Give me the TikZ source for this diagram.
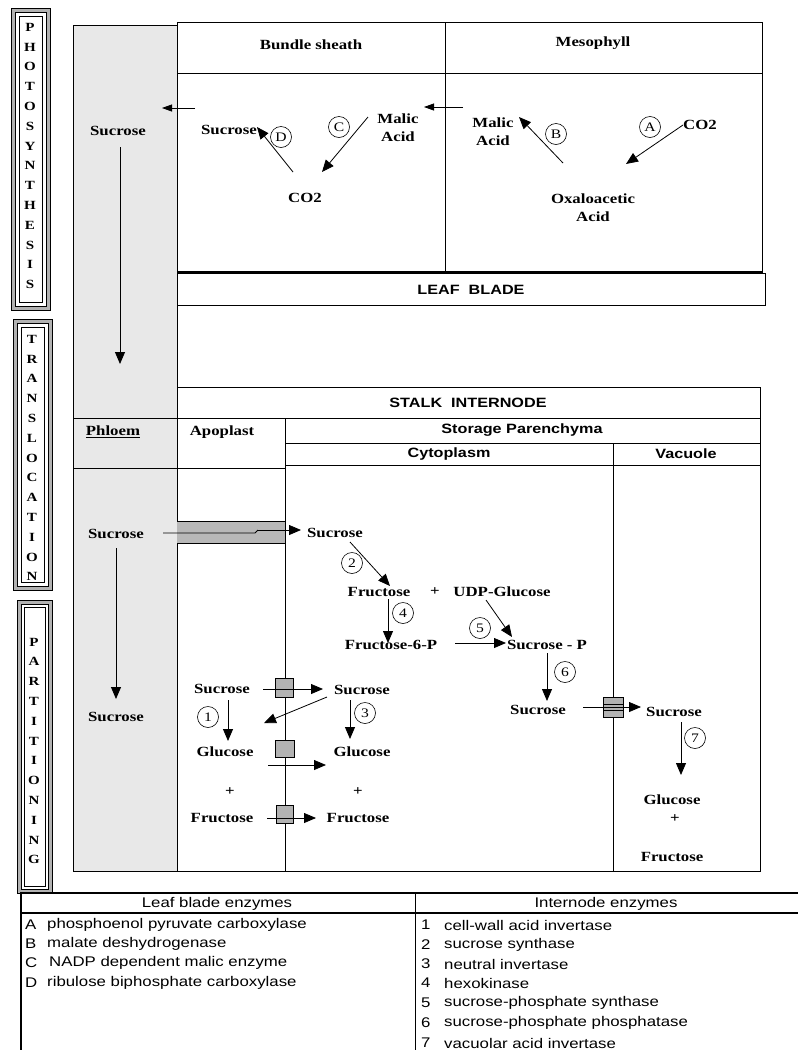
\documentclass[tikz,border=0pt]{standalone}
\usepackage{fontspec}
\setmainfont{Liberation Serif}[FakeStretch=1.2]
\newfontfamily\sansf{Liberation Sans}[FakeStretch=1.2]
\usetikzlibrary{arrows.meta}
\definecolor{phl}{gray}{0.91}
\definecolor{sqg}{gray}{0.70}
\definecolor{bandg}{gray}{0.72}
\definecolor{frameg}{gray}{0.70}
\begin{document}
\begin{tikzpicture}[x=1pt,y=-1pt,
  txt/.style={font=\fontsize{14}{18}\selectfont\bfseries, inner sep=1pt, align=center},
  hdr/.style={font=\sansf\fontsize{13.5}{16}\selectfont\bfseries, inner sep=1pt},
  tabh/.style={font=\sansf\fontsize{14}{16}\selectfont, inner sep=0pt},
  tab/.style={font=\sansf\fontsize{14}{16}\selectfont, inner sep=0pt, anchor=west},
  lbl/.style={draw, circle, line width=0.6pt, minimum size=21pt, inner sep=0pt, font=\fontsize{13}{13}\selectfont},
  arr/.style={-{Triangle[length=12pt,width=10pt]}, line width=0.8pt},
  box/.style={draw, line width=0.8pt},
  sqbox/.style={draw, fill=sqg, line width=0.6pt, inner sep=0pt, minimum width=18pt, minimum height=19pt},
  vert/.style={font=\fontsize{12.5}{19.8}\selectfont\bfseries, align=center, inner sep=0pt}
]
\useasboundingbox (0,0) rectangle (798,1050);
\fill[white] (0,0) rectangle (798,1050);

% ---------- side label frames ----------
\draw[line width=1pt, fill=frameg] (11,8) rectangle (50,310);
\draw[line width=0.8pt, fill=white] (15,12) rectangle (46,306);
\draw[line width=0.6pt] (19,16) rectangle (42,302);
\node[vert] (photo) at (30,156) {P\\H\\O\\T\\O\\S\\Y\\N\\T\\H\\E\\S\\I\\S};

\draw[line width=1pt, fill=frameg] (13,319) rectangle (52,590);
\draw[line width=0.8pt, fill=white] (17,323) rectangle (48,586);
\draw[line width=0.6pt] (21,327) rectangle (44,582);
\node[vert] (transl) at (32,458) {T\\R\\A\\N\\S\\L\\O\\C\\A\\T\\I\\O\\N};

\draw[line width=1pt, fill=frameg] (17,600) rectangle (52,893);
\draw[line width=0.8pt, fill=white] (21,604) rectangle (48,889);
\draw[line width=0.6pt] (24,607) rectangle (45,886);
\node[vert] (partit) at (34,751) {P\\A\\R\\T\\I\\T\\I\\O\\N\\I\\N\\G};

% ---------- phloem column ----------
\fill[phl] (73,25) rectangle (177,418);
\draw[box] (73,25) rectangle (177,418);
\fill[phl] (73,418) rectangle (177,468);
\draw[box] (73,418) rectangle (177,468);
\fill[phl] (73,468) rectangle (177,871);
\draw[box] (73,468) rectangle (177,871);

% ---------- leaf blade boxes ----------
\draw[box] (177,22) rectangle (445,73);
\draw[box] (445,22) rectangle (762,73);
\draw[box] (177,73) rectangle (445,272);
\draw[box] (445,73) rectangle (762,272);
\draw[line width=2.2pt] (177,272) -- (763,272);
\draw[box] (177,273) rectangle (765,305);

% ---------- stalk internode boxes ----------
\draw[box] (177,387) rectangle (760,418);
\draw[box] (285,418) rectangle (760,443);
\draw[box] (285,443) rectangle (613,465);
\draw[box] (613,443) rectangle (760,465);
\draw[box] (177,418) rectangle (285,468);
\draw[box] (177,468) rectangle (285,871);
\draw[box] (285,465) rectangle (613,871);
\draw[box] (613,465) rectangle (760,871);

% ---------- headers ----------
\node[txt] (bs) at (311,45) {Bundle sheath};
\node[txt] (meso) at (593,43) {Mesophyll};
\node[hdr] (leaf) at (471,290) {LEAF\ \ BLADE};
\node[hdr] (stalk) at (468,403) {STALK\ \ INTERNODE};
\node[hdr] (stor) at (522,430) {Storage Parenchyma};
\node[hdr] (cyto) at (449,454) {Cytoplasm};
\node[hdr] (vac) at (686,454) {Vacuole};
\node[txt] (phloem) at (113,432) {\underline{Phloem}};
\node[txt] (apo) at (222,432) {Apoplast};

% ---------- leaf blade pathway ----------
\node[txt] (sucP) at (118,131) {Sucrose};
\coordinate (p1) at (120,147); \coordinate (p2) at (120,364);
\draw[arr] (p1) -- (p2);
\coordinate (t1) at (195,108); \coordinate (t2) at (162,108);
\draw[arr, -{Triangle[length=10pt,width=7pt]}] (t1) -- (t2);
\coordinate (t3) at (463,107); \coordinate (t4) at (424,107);
\draw[arr, -{Triangle[length=10pt,width=7pt]}] (t3) -- (t4);

\node[txt] (sucB) at (229,130) {Sucrose};
\node[txt] (malB) at (398,128) {Malic\\Acid};
\node[txt] (co2B) at (305,198) {CO2};
\node[lbl] (D) at (281,137) {D};
\node[lbl] (C) at (339,127) {C};
\coordinate (d1) at (293,172); \coordinate (d2) at (257,127);
\draw[arr] (d1) -- (d2);
\coordinate (c1) at (368,117); \coordinate (c2) at (322,172);
\draw[arr] (c1) -- (c2);

\node[txt] (malM) at (493,132) {Malic\\Acid};
\node[lbl] (B) at (556,134) {B};
\coordinate (b1) at (563,163); \coordinate (b2) at (519,117);
\draw[arr] (b1) -- (b2);
\node[lbl] (A) at (650,127) {A};
\node[txt] (co2M) at (700,125) {CO2};
\coordinate (a1) at (683,125); \coordinate (a2) at (626,164);
\draw[arr] (a1) -- (a2);
\node[txt] (oxa) at (593,208) {Oxaloacetic\\Acid};

% ---------- phloem to cytoplasm ----------
\node[txt] (sucPh) at (116,534) {Sucrose};
\coordinate (q1) at (116,548); \coordinate (q2) at (116,699);
\draw[arr] (q1) -- (q2);
\node[txt] (sucPh2) at (116,717) {Sucrose};

\fill[bandg] (177,521) rectangle (285,543);
\draw[line width=0.8pt] (177,521) -- (285,521);
\draw[line width=0.8pt] (177,543) -- (285,543);
\coordinate (g1) at (163,533); \coordinate (g2) at (255,533);
\coordinate (g3) at (258,530); \coordinate (g4) at (301,530);
\draw[line width=0.8pt] (g1) -- (g2) -- (g3);
\draw[arr] (g3) -- (g4);

% ---------- cytoplasm pathway ----------
\node[txt] (sucC1) at (335,533) {Sucrose};
\node[lbl] (n2) at (352,563) {2};
\coordinate (e1) at (350,542); \coordinate (e2) at (390,586);
\draw[arr] (e1) -- (e2);
\node[txt] (fru) at (379,592) {Fructose};
\node[txt] (plus1) at (435,592) {+};
\node[txt] (udp) at (502,592) {UDP-Glucose};
\node[lbl] (n4) at (403,613) {4};
\coordinate (f1) at (388,599); \coordinate (f2) at (388,643);
\draw[arr] (f1) -- (f2);
\node[txt] (f6p) at (391,645) {Fructose-6-P};
\node[lbl] (n5) at (480,628) {5};
\coordinate (h1) at (455,643); \coordinate (h2) at (506,643);
\draw[arr] (h1) -- (h2);
\coordinate (u1) at (486,600); \coordinate (u2) at (512,637);
\draw[arr] (u1) -- (u2);
\node[txt] (sucp) at (547,645) {Sucrose - P};
\node[lbl] (n6) at (565,672) {6};
\coordinate (k1) at (547,653); \coordinate (k2) at (547,701);
\draw[arr] (k1) -- (k2);
\node[txt] (sucC2) at (538,710) {Sucrose};
\node[sqbox, minimum width=20pt, minimum height=20pt] (sq4) at (613,707) {};
\draw[line width=0.5pt] (603,704) -- (623,704) (603,710) -- (623,710);
\coordinate (m1) at (583,707); \coordinate (m2) at (641,707);
\draw[arr] (m1) -- (m2);

% ---------- vacuole ----------
\node[txt] (sucV) at (674,712) {Sucrose};
\node[lbl] (n7) at (695,738) {7};
\coordinate (v1) at (681,722); \coordinate (v2) at (681,775);
\draw[arr] (v1) -- (v2);
\node[txt] (gluV) at (672,800) {Glucose};
\node[txt] (plusV) at (675,819) {+};
\node[txt] (fruV) at (672,857) {Fructose};

% ---------- apoplast / cytoplasm exchange ----------
\node[txt] (sucA) at (222,689) {Sucrose};
\node[lbl] (n1) at (208,717) {1};
\coordinate (w1) at (228,700); \coordinate (w2) at (228,741);
\draw[arr] (w1) -- (w2);
\node[txt] (gluA) at (225,752) {Glucose};
\node[txt] (plusA) at (230,792) {+};
\node[txt] (fruA) at (222,818) {Fructose};

\node[sqbox] (sq1) at (284,688) {};
\coordinate (s1) at (263,689); \coordinate (s2) at (323,689);
\draw[arr] (s1) -- (s2);
\node[txt] (sucC3) at (362,690) {Sucrose};
\coordinate (r1) at (327,697); \coordinate (r2) at (264,723);
\draw[arr] (r1) -- (r2);
\node[lbl] (n3) at (365,713) {3};
\coordinate (x1) at (350,700); \coordinate (x2) at (350,739);
\draw[arr] (x1) -- (x2);
\node[txt] (gluC) at (362,752) {Glucose};

\node[sqbox, minimum width=19pt, minimum height=17pt] (sq2) at (285,749) {};
\coordinate (y1) at (268,765); \coordinate (y2) at (326,765);
\draw[arr] (y1) -- (y2);
\node[txt] (plusC) at (358,792) {+};
\node[txt] (fruC) at (358,818) {Fructose};
\node[sqbox, minimum width=17pt, minimum height=18pt] (sq3) at (285,814) {};
\coordinate (z1) at (267,818); \coordinate (z2) at (316,818);
\draw[arr] (z1) -- (z2);

% ---------- enzyme table ----------
\draw[line width=1.5pt] (20,893) -- (798,893);
\draw[line width=1.2pt] (20,913) -- (798,913);
\draw[line width=1.5pt] (21,893) -- (21,1050);
\draw[line width=1pt] (415,893) -- (415,1050);
\node[tabh] (lbe) at (217,904) {Leaf blade enzymes};
\node[tabh] (ine) at (606,904) {Internode enzymes};

\node[tab] (eA) at (25,925) {A};  \node[tab] (tA) at (47,925) {phosphoenol pyruvate carboxylase};
\node[tab] (eB) at (25,944) {B};  \node[tab] (tB) at (47,944) {malate deshydrogenase};
\node[tab] (eC) at (25,963) {C};  \node[tab] (tC) at (49,963) {NADP dependent malic enzyme};
\node[tab] (eD) at (25,983) {D};  \node[tab] (tD) at (47,983) {ribulose biphosphate carboxylase};

\node[tab] (e1) at (421,925) {1};  \node[tab] (t1n) at (444,925) {cell-wall acid invertase};
\node[tab] (e2n) at (421,945) {2}; \node[tab] (t2n) at (444,945) {sucrose synthase};
\node[tab] (e3) at (421,964) {3};  \node[tab] (t3n) at (444,964) {neutral invertase};
\node[tab] (e4) at (421,983) {4};  \node[tab] (t4n) at (444,983) {hexokinase};
\node[tab] (e5) at (421,1003) {5}; \node[tab] (t5n) at (444,1003) {sucrose-phosphate synthase};
\node[tab] (e6) at (421,1023) {6}; \node[tab] (t6n) at (444,1023) {sucrose-phosphate phosphatase};
\node[tab] (e7) at (421,1043) {7}; \node[tab] (t7n) at (444,1043) {vacuolar acid invertase};
\end{tikzpicture}
\end{document}
